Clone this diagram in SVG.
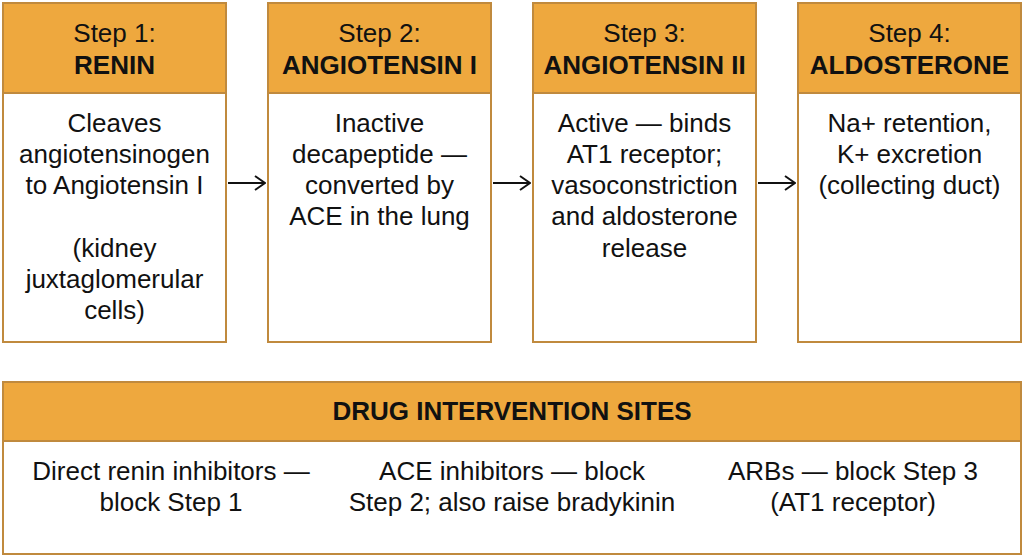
<svg xmlns="http://www.w3.org/2000/svg" width="1024" height="559" viewBox="0 0 1024 559">
<style>
.box{fill:#ffffff;stroke:#c08a3e;stroke-width:2}
.hdr{fill:#eea83e;stroke:#c08a3e;stroke-width:2}
text{font-family:"Liberation Sans",Arial,sans-serif;font-size:26px;fill:#111;text-anchor:middle}
.b{font-weight:bold}
.conn{stroke:#111;stroke-width:2;fill:none}
</style>
<defs>
<marker id="ah" viewBox="0 0 12 16" refX="11" refY="8" markerWidth="12" markerHeight="16" markerUnits="userSpaceOnUse" orient="auto">
<path d="M1,1 L11,8 L1,15" fill="none" stroke="#111" stroke-width="2"/>
</marker>
</defs>
<rect width="1024" height="559" fill="#ffffff"/>
<g id="step1">
<rect class="box" x="3" y="3" width="223" height="339"/>
<rect class="hdr" x="3" y="3" width="223" height="90"/>
<text x="114.5" y="42">Step 1:</text>
<text x="114.5" y="74" class="b">RENIN</text>
<text x="114.5" y="132">Cleaves</text>
<text x="114.5" y="163">angiotensinogen</text>
<text x="114.5" y="194">to Angiotensin I</text>
<text x="114.5" y="257">(kidney</text>
<text x="114.5" y="288">juxtaglomerular</text>
<text x="114.5" y="319">cells)</text>
</g>
<g id="step2">
<rect class="box" x="268" y="3" width="223" height="339"/>
<rect class="hdr" x="268" y="3" width="223" height="90"/>
<text x="379.5" y="42">Step 2:</text>
<text x="379.5" y="74" class="b">ANGIOTENSIN I</text>
<text x="379.5" y="132">Inactive</text>
<text x="379.5" y="163">decapeptide —</text>
<text x="379.5" y="194">converted by</text>
<text x="379.5" y="225">ACE in the lung</text>
</g>
<g id="step3">
<rect class="box" x="533" y="3" width="223" height="339"/>
<rect class="hdr" x="533" y="3" width="223" height="90"/>
<text x="644.5" y="42">Step 3:</text>
<text x="644.5" y="74" class="b">ANGIOTENSIN II</text>
<text x="644.5" y="132">Active — binds</text>
<text x="644.5" y="163">AT1 receptor;</text>
<text x="644.5" y="194">vasoconstriction</text>
<text x="644.5" y="225">and aldosterone</text>
<text x="644.5" y="257">release</text>
</g>
<g id="step4">
<rect class="box" x="798" y="3" width="223" height="339"/>
<rect class="hdr" x="798" y="3" width="223" height="90"/>
<text x="909.5" y="42">Step 4:</text>
<text x="909.5" y="74" class="b">ALDOSTERONE</text>
<text x="909.5" y="132">Na+ retention,</text>
<text x="909.5" y="163">K+ excretion</text>
<text x="909.5" y="194">(collecting duct)</text>
</g>
<g id="connectors">
<line class="conn" x1="228" y1="183" x2="265" y2="183" marker-end="url(#ah)"/>
<line class="conn" x1="493" y1="183" x2="530" y2="183" marker-end="url(#ah)"/>
<line class="conn" x1="758" y1="183" x2="795" y2="183" marker-end="url(#ah)"/>
</g>
<g id="drugs">
<rect class="box" x="3" y="382" width="1018" height="172"/>
<rect class="hdr" x="3" y="382" width="1018" height="59"/>
<text x="512" y="420" class="b">DRUG INTERVENTION SITES</text>
<text x="171" y="480">Direct renin inhibitors —</text>
<text x="171" y="511">block Step 1</text>
<text x="512" y="480">ACE inhibitors — block</text>
<text x="512" y="511">Step 2; also raise bradykinin</text>
<text x="853" y="480">ARBs — block Step 3</text>
<text x="853" y="511">(AT1 receptor)</text>
</g>
</svg>
